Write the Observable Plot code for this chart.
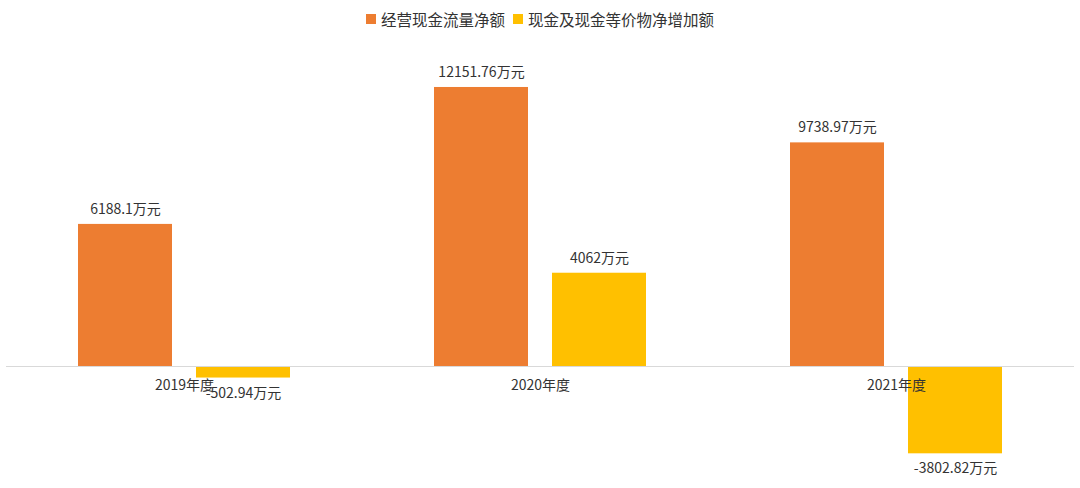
<!DOCTYPE html>
<html><head><meta charset="utf-8">
<script src="https://cdn.jsdelivr.net/npm/d3@7"></script>
<script src="https://cdn.jsdelivr.net/npm/@observablehq/plot@0.6"></script>
<style>
body{margin:0;background:#fff;font-family:"Noto Sans CJK SC",sans-serif;}
#legend{height:36px;display:flex;justify-content:center;align-items:center;font-size:15.5px;color:#333;gap:8px;padding-top:2px;box-sizing:border-box}
#legend span.sw{display:inline-block;width:10px;height:10px;margin-right:5px;vertical-align:middle}
#legend .item{display:flex;align-items:center}
</style></head>
<body>
<div id="legend"></div>
<div id="chart"></div>
<script>
const years = ["2019年度", "2020年度", "2021年度"];
const seriesNames = ["经营现金流量净额", "现金及现金等价物净增加额"];
const operating = [6188.1, 12151.76, 9738.97];
const netIncrease = [-502.94, 4062, -3802.82];
const colors = ["#ED7D31", "#FFC000"];

const data = [];
years.forEach((y, i) => {
  data.push({year: y, series: seriesNames[0], value: operating[i]});
  data.push({year: y, series: seriesNames[1], value: netIncrease[i]});
});

const legend = document.getElementById("legend");
seriesNames.forEach((s, i) => {
  const d = document.createElement("div");
  d.className = "item";
  d.innerHTML = `<span class="sw" style="background:${colors[i]}"></span>${s}`;
  legend.appendChild(d);
});

const chart = Plot.plot({
  width: 1080,
  height: 452,
  marginLeft: 5,
  marginRight: 5,
  marginTop: 31.5,
  marginBottom: 7.2,
  style: {fontFamily: "'Noto Sans CJK SC', sans-serif", fontSize: "14px", color: "#333"},
  fx: {domain: years, padding: 0, axis: null},
  x: {domain: seriesNames, paddingInner: 0.2, paddingOuter: 0.6, axis: null},
  y: {domain: [-5000, 13000], axis: null},
  color: {domain: seriesNames, range: colors},
  marks: [
    Plot.barY(data, {fx: "year", x: "series", y: "value", fill: "series"}),
    Plot.ruleY([0], {stroke: "#d9d9d9", strokeWidth: 1}),
    Plot.text(years, {fx: d => d, y: 0, text: d => d, dy: 19, fill: "#333", fontSize: 14}),
    Plot.text(data, {fx: "year", x: "series", y: "value", text: d => d.value + "万元",
      fill: "#333", fontSize: 14, filter: d => d.value >= 0, dy: -15}),
    Plot.text(data, {fx: "year", x: "series", y: "value", text: d => d.value + "万元",
      fill: "#333", fontSize: 14, filter: d => d.value < 0, dy: 15})
  ]
});
document.getElementById("chart").appendChild(chart);
</script>
</body></html>
